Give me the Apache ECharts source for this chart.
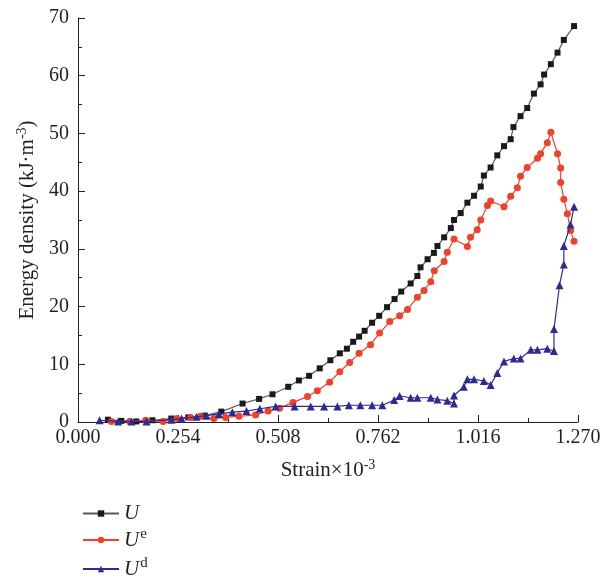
<!DOCTYPE html>
<html>
<head>
<meta charset="utf-8">
<script src="https://cdn.jsdelivr.net/npm/echarts@6/dist/echarts.min.js"></script>
<style>
  html, body { margin: 0; padding: 0; background: #fff; }
  #main { width: 613px; height: 584px; }
</style>
</head>
<body>
<div id="main"></div>
<script>
// 横轴刻度
const xTicks = [0, 0.254, 0.508, 0.762, 1.016, 1.270]

// U（总能量）
const uStrain = [0.076, 0.110, 0.148, 0.189, 0.237, 0.280, 0.322, 0.364, 0.418, 0.460, 0.494, 0.534, 0.561, 0.587, 0.614, 0.641, 0.665,
  0.683, 0.699, 0.714, 0.728, 0.747, 0.765, 0.785, 0.804, 0.821, 0.845, 0.862, 0.870, 0.888, 0.904, 0.913, 0.930, 0.947, 0.955,
  0.972, 0.989, 1.006, 1.023, 1.031, 1.048, 1.065, 1.082, 1.099, 1.106, 1.124, 1.141, 1.158, 1.175, 1.184, 1.201, 1.218, 1.234, 1.260]
const uValue = [0.4, 0.2, 0.1, 0.3, 0.6, 0.8, 1.1, 1.8, 3.2, 4.0, 4.8, 6.1, 7.2, 8.0, 9.3, 10.7, 11.9,
  12.7, 13.9, 14.8, 15.8, 17.2, 18.4, 19.9, 21.3, 22.6, 24.0, 25.3, 26.8, 28.2, 29.3, 30.5, 32.0, 33.6, 35.0,
  36.2, 38.0, 39.2, 40.8, 42.7, 44.1, 46.2, 47.8, 49.0, 51.1, 53.0, 54.4, 56.9, 58.5, 60.2, 62.0, 64.0, 66.2, 68.6]

// Ue（弹性能）
const ueStrain = [0.085, 0.131, 0.172, 0.216, 0.251, 0.286, 0.311, 0.345, 0.375, 0.409, 0.451, 0.483, 0.512, 0.546, 0.583, 0.608, 0.639,
  0.665, 0.690, 0.714, 0.743, 0.766, 0.792, 0.817, 0.837, 0.862, 0.879, 0.896, 0.905, 0.930, 0.938, 0.955, 0.989, 0.997, 1.014,
  1.023, 1.040, 1.048, 1.082, 1.099, 1.116, 1.124, 1.141, 1.167, 1.175, 1.192, 1.201, 1.218, 1.226, 1.226, 1.234, 1.243, 1.251, 1.260]
const ueValue = [0.1, 0.1, 0.3, 0.1, 0.6, 0.8, 1.0, 0.6, 0.8, 1.0, 1.2, 1.9, 2.4, 3.4, 4.4, 5.4, 6.9,
  8.7, 10.3, 11.9, 13.4, 15.4, 17.4, 18.4, 19.5, 21.6, 22.8, 24.3, 26.2, 27.8, 29.4, 31.7, 30.4, 32.0, 33.3,
  35.0, 37.5, 38.3, 37.3, 39.1, 40.6, 42.6, 44.1, 45.7, 46.5, 48.4, 50.2, 46.5, 44.0, 41.5, 38.6, 36.1, 33.2, 31.3]

// Ud（耗散能）
const udStrain = [0.055, 0.102, 0.136, 0.174, 0.237, 0.263, 0.301, 0.326, 0.358, 0.392, 0.428, 0.462, 0.502, 0.550, 0.591, 0.625, 0.659,
  0.688, 0.717, 0.747, 0.773, 0.803, 0.817, 0.845, 0.862, 0.896, 0.913, 0.938, 0.955, 0.955, 0.980, 0.989, 1.006, 1.031, 1.048,
  1.065, 1.082, 1.107, 1.124, 1.150, 1.167, 1.192, 1.209, 1.209, 1.223, 1.234, 1.234, 1.251, 1.260]
const udValue = [0.3, 0.1, 0.1, 0.1, 0.4, 0.6, 0.9, 1.1, 1.4, 1.7, 1.9, 2.3, 2.7, 2.7, 2.7, 2.7, 2.7,
  2.9, 2.9, 2.9, 2.9, 3.8, 4.5, 4.2, 4.2, 4.2, 3.9, 3.7, 3.2, 4.6, 6.1, 7.4, 7.4, 7.1, 6.4,
  8.5, 10.5, 11.0, 11.0, 12.5, 12.5, 12.7, 12.3, 16.1, 23.7, 27.3, 30.5, 34.2, 37.3]

const pairs = (xs, ys) => xs.map((x, i) => [x, ys[i]])

const serif = 'Liberation Serif'
const txt = '#231f20'

const supRich = {
  a: { fontFamily: serif, fontSize: 21, color: txt },
  s: { fontFamily: serif, fontSize: 14, color: txt, padding: [0, 0, 11, 0] },
  u: { fontFamily: serif, fontSize: 21, fontStyle: 'italic', color: txt },
  e: { fontFamily: serif, fontSize: 15, color: txt, padding: [0, 0, 11, 1] }
}

const legendNames = { U: '{u|U}', Ue: '{u|U}{e|e}', Ud: '{u|U}{e|d}' }
const makeLegend = (name, top) => ({
  data: [name],
  orient: 'vertical',
  left: 77,
  top: top,
  itemWidth: 36,
  itemHeight: 8,
  itemGap: 10,
  textStyle: { rich: supRich },
  formatter: n => legendNames[n]
})

const option = {
  animation: false,
  backgroundColor: '#fff',
  grid: { left: 78, right: 35, top: 18, bottom: 162 },
  legend: [makeLegend('U', 498), makeLegend('Ue', 522), makeLegend('Ud', 551)],
  xAxis: {
    type: 'value',
    min: 0,
    max: 1.27,
    interval: 0.254,
    splitLine: { show: false },
    axisLine: { lineStyle: { color: '#231f20', width: 1 } },
    axisTick: { inside: true, length: 7, lineStyle: { color: '#231f20' } },
    minorTick: { show: true, splitNumber: 2, length: 4, lineStyle: { color: '#231f20' } },
    axisLabel: {
      fontFamily: serif, fontSize: 20, color: txt, margin: 6,
      formatter: v => xTicks.some(t => Math.abs(t - v) < 1e-6) ? v.toFixed(3) : ''
    },
    name: '{a|Strain×10}{s|-3}',
    nameLocation: 'middle',
    nameGap: 36,
    nameTextStyle: { rich: supRich }
  },
  yAxis: {
    type: 'value',
    min: 0,
    max: 70,
    interval: 10,
    splitLine: { show: false },
    axisLine: { show: true, lineStyle: { color: '#231f20', width: 1 } },
    axisTick: { show: true, inside: true, length: 7, lineStyle: { color: '#231f20' } },
    minorTick: { show: true, splitNumber: 2, length: 4, lineStyle: { color: '#231f20' } },
    axisLabel: { fontFamily: serif, fontSize: 20, color: txt, margin: 9 },
    name: '{a|Energy density (kJ·m}{s|-3}{a|)}',
    nameLocation: 'middle',
    nameGap: 38,
    nameTextStyle: { rich: supRich }
  },
  series: [
    {
      name: 'U',
      type: 'line',
      data: pairs(uStrain, uValue),
      symbol: 'rect',
      symbolSize: 6,
      lineStyle: { color: '#5a5a5a', width: 1.2 },
      itemStyle: { color: '#1a1a1a' },
      z: 3
    },
    {
      name: 'Ue',
      type: 'line',
      data: pairs(ueStrain, ueValue),
      symbol: 'circle',
      symbolSize: 7,
      lineStyle: { color: '#f0412a', width: 1.2 },
      itemStyle: { color: '#f0412a' },
      z: 4
    },
    {
      name: 'Ud',
      type: 'line',
      data: pairs(udStrain, udValue),
      symbol: 'triangle',
      symbolSize: 8,
      lineStyle: { color: '#2e2a94', width: 1.2 },
      itemStyle: { color: '#2e2a94' },
      z: 5
    }
  ]
}

const chart = echarts.init(document.getElementById('main'))
chart.setOption(option)
</script>
</body>
</html>
